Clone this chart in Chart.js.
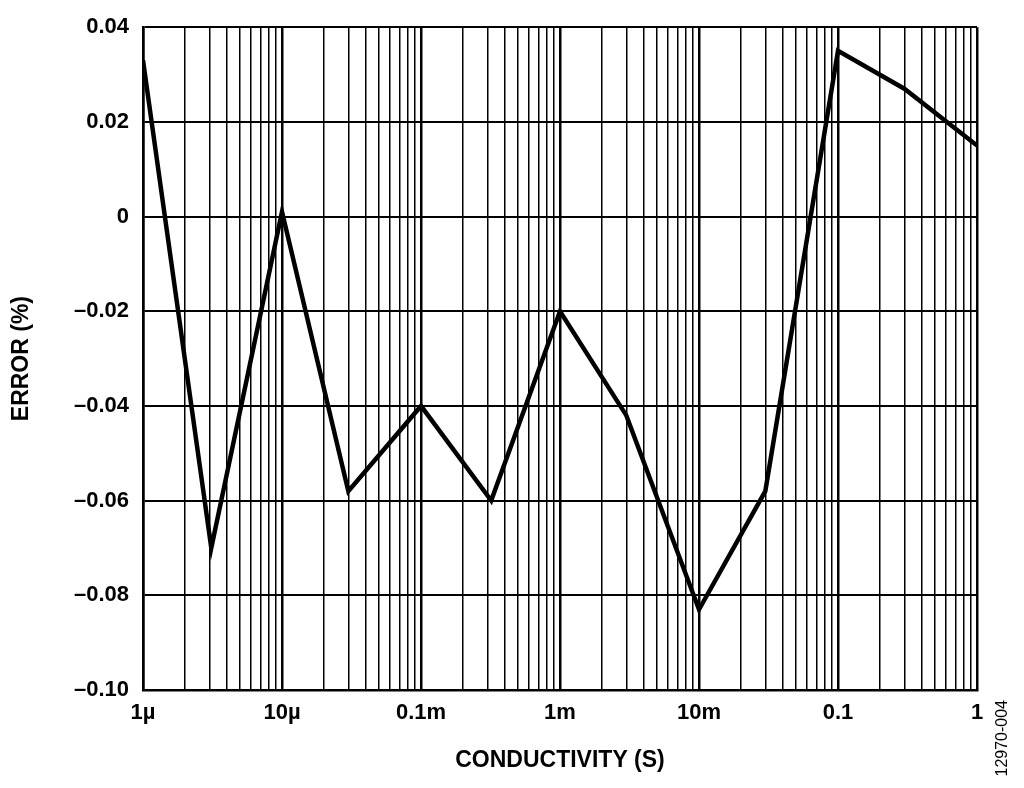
<!DOCTYPE html>
<html><head><meta charset="utf-8">
<script src="https://cdn.jsdelivr.net/npm/chart.js@4"></script>
<style>html,body{margin:0;padding:0;background:#fff}#w{width:1024px;height:788px}</style>
</head><body><div id="w"><canvas id="c"></canvas></div>
<script>
const conductivity=[1e-6,3.1e-6,1e-5,3e-5,1e-4,3.2e-4,1e-3,3e-3,1e-2,3e-2,1e-1,0.3,1];
const errorPct=[0.033,-0.070,0.001,-0.058,-0.040,-0.060,-0.020,-0.042,-0.083,-0.058,0.035,0.027,0.015];
const decadeLabels={"-6":"1µ","-5":"10µ","-4":"0.1m","-3":"1m","-2":"10m","-1":"0.1","0":"1"};
const yTicks=[0.04,0.02,0,-0.02,-0.04,-0.06,-0.08,-0.10];
const F='"Liberation Sans", Arial, sans-serif';
const isDec=v=>Math.abs(Math.log10(v)-Math.round(Math.log10(v)))<1e-6;
new Chart(document.getElementById('c'),{
type:'line',
data:{datasets:[{data:conductivity.map((x,i)=>({x,y:errorPct[i]})),borderColor:'#000',borderWidth:4.5,pointRadius:0,tension:0,fill:false}]},
options:{responsive:true,maintainAspectRatio:false,animation:false,
layout:{padding:{left:0,right:47,top:25,bottom:0}},
plugins:{legend:{display:false},tooltip:{enabled:false}},
scales:{
x:{type:'logarithmic',min:1e-6,max:1,
afterBuildTicks:s=>{const t=[];for(let e=-6;e<0;e++)for(let m=1;m<10;m++)t.push({value:m*Math.pow(10,e)});t.push({value:1});s.ticks=t;},
afterFit:s=>{s.height=98;},
ticks:{autoSkip:false,maxRotation:0,color:'#000',font:{family:F,size:22,weight:'bold'},padding:10,
callback:v=>isDec(v)?decadeLabels[String(Math.round(Math.log10(v)))]:''},
grid:{color:'#000',lineWidth:c=>(c.tick&&isDec(c.tick.value))?2.5:1.5,drawTicks:false},
border:{color:'#000',width:2.5},
title:{display:true,text:'CONDUCTIVITY (S)',color:'#000',font:{family:F,size:23,weight:'bold'},padding:{top:8,bottom:14}}},
y:{min:-0.10,max:0.04,
afterBuildTicks:s=>{s.ticks=yTicks.map(v=>({value:v}));},
afterFit:s=>{s.width=143;},
ticks:{color:'#000',font:{family:F,size:22,weight:'bold'},padding:14,
callback:v=>{if(Math.abs(v)<1e-9)return '0';const a=Math.abs(v).toFixed(2);return (v<0?'–':'')+a;}},
grid:{color:'#000',lineWidth:2,drawTicks:false},
border:{color:'#000',width:2.5},
title:{display:true,text:'ERROR (%)',color:'#000',font:{family:F,size:23,weight:'bold'},padding:{top:8,bottom:0}}}}},
plugins:[{id:'side',afterDraw(ch){const c=ch.ctx;c.save();c.translate(1003,700);c.rotate(-Math.PI/2);c.font='16px '+F;c.fillStyle='#000';c.textAlign='right';c.textBaseline='middle';c.fillText('12970-004',0,0);c.restore();}}]
});
</script></body></html>
